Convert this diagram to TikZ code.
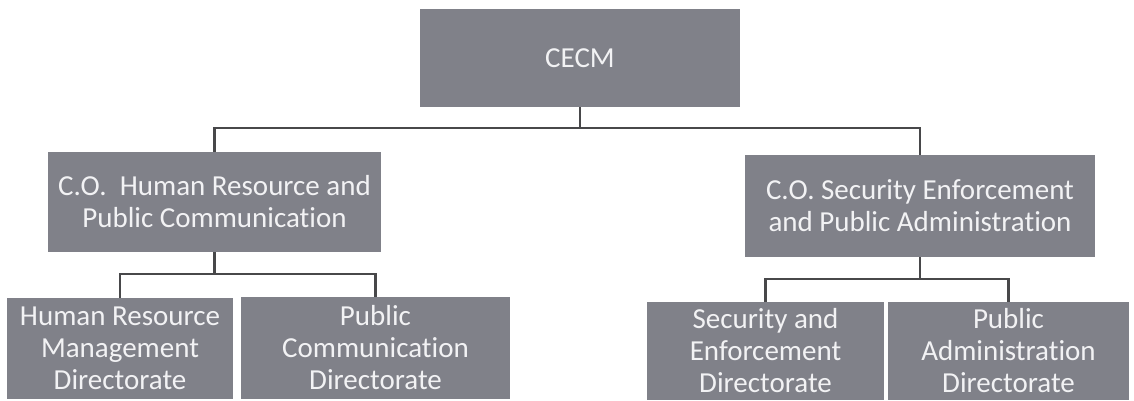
\documentclass[tikz,border=0pt]{standalone}
\usepackage{fontspec}
\setmainfont[Ligatures=NoCommon]{Carlito}
\usetikzlibrary{positioning}
\definecolor{boxgray}{RGB}{128,129,137}
\definecolor{linegray}{RGB}{72,72,74}
\definecolor{boxtext}{RGB}{242,242,244}

\begin{document}
\begin{tikzpicture}[x=1pt,y=-1pt,
        box/.style={rectangle,fill=boxgray,text=boxtext,align=center,inner sep=0pt,
            font=\fontsize{29}{32}\selectfont},
        link/.style={draw=linegray,line width=2.2pt}]
        \useasboundingbox (0,0) rectangle (1134,400);
        \node[box,minimum width=320pt,minimum height=98pt] (cecm) at (580,58) {CECM};
        \node[box,minimum width=333pt,minimum height=100pt] (hrco) at (214.5,202)
            {C.O.\ \ Human Resource and\\Public Communication};
        \node[box,minimum width=350pt,minimum height=102pt] (seco) at (920,206)
            {C.O. Security Enforcement\\and Public Administration};
        \node[box,minimum width=226pt,minimum height=101pt] (hrm) at (120,348.5)
            {Human Resource\\Management\\Directorate};
        \node[box,minimum width=269pt,minimum height=102pt] (pcd) at (375.5,348)
            {Public\\Communication\\Directorate};
        \node[box,minimum width=237pt,minimum height=98pt] (sed) at (765.5,351)
            {Security and\\Enforcement\\Directorate};
        \node[box,minimum width=241pt,minimum height=98pt] (pad) at (1008.5,351)
            {Public\\Administration\\Directorate};
        \draw[link] (cecm.south) -- ++(0,21) coordinate (topbar);
        \draw[link] (topbar) -| (hrco.north);
        \draw[link] (topbar) -| (seco.north);
        \draw[link] (hrco.south) -- ++(0,22) coordinate (leftbar);
        \draw[link] (leftbar) -| (hrm.north);
        \draw[link] (leftbar) -| (pcd.north);
        \draw[link] (seco.south) -- ++(0,22) coordinate (rightbar);
        \draw[link] (rightbar) -| (sed.north);
        \draw[link] (rightbar) -| (pad.north);
    \end{tikzpicture}
\end{document}
